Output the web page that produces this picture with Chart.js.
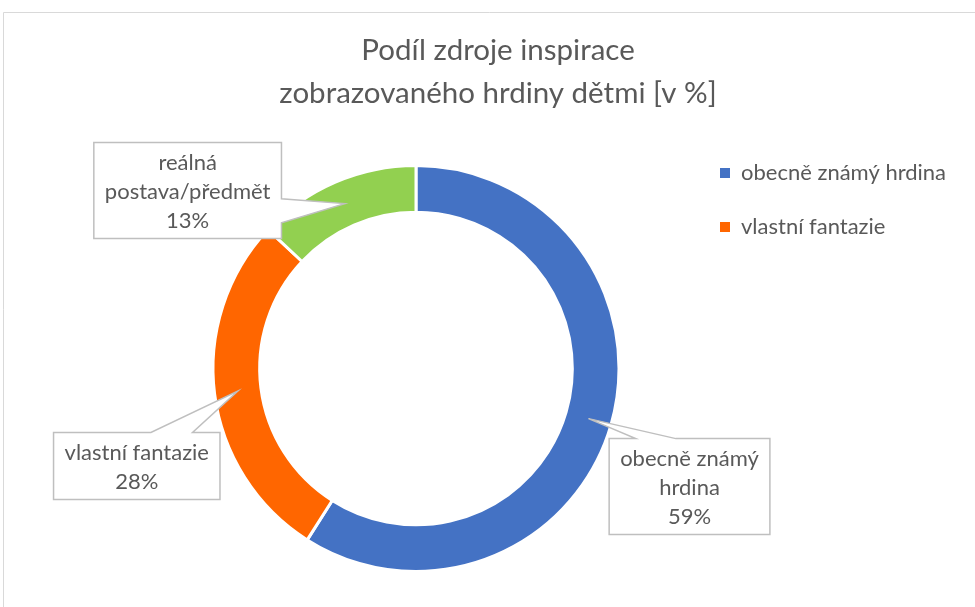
<!DOCTYPE html>
<html>
<head>
<meta charset="utf-8">
<script src="https://cdn.jsdelivr.net/npm/chart.js@4.4.1/dist/chart.umd.min.js"></script>
<style>
  html, body { margin: 0; padding: 0; background: #fff; }
  canvas { display: block; }
</style>
</head>
<body>
<canvas id="myChart" width="975" height="607"></canvas>
<script>
const categories = ['obecně známý hrdina', 'vlastní fantazie', 'reálná postava/předmět'];
const shares = [59, 28, 13];
const labelLines = [['obecně známý', 'hrdina'], ['vlastní fantazie'], ['reálná', 'postava/předmět']];
const sliceColors = ['#4472C4', '#FF6600', '#92D050'];
const titleLines = ['Podíl zdroje inspirace', 'zobrazovaného hrdiny dětmi [v %]'];

// where each callout box sits, relative to the middle of its slice
const calloutOffsets = [[101, 68], [-101, 75], [-157, -13]];

const FONT = 'Lato';
const TEXT = '#595959';
const LABEL_SIZE = 22;

const frame = {
  id: 'frame',
  afterLayout(chart) {
    // legend is squeezed so the title stays centred; let its text run past the box
    if (chart.legend) chart.legend.right = chart.width;
  },
  beforeDraw(chart) {
    const ctx = chart.ctx;
    ctx.save();
    ctx.fillStyle = '#fff';
    ctx.fillRect(0, 0, chart.width, chart.height);
    ctx.strokeStyle = '#D9D9D9';
    ctx.lineWidth = 1;
    ctx.beginPath();
    ctx.moveTo(3.5, chart.height);
    ctx.lineTo(3.5, 12.5);
    ctx.lineTo(chart.width, 12.5);
    ctx.stroke();
    ctx.restore();
  }
};

const callouts = {
  id: 'callouts',
  afterDraw(chart) {
    const ctx = chart.ctx;
    const meta = chart.getDatasetMeta(0);
    const total = shares.reduce((a, b) => a + b, 0);
    ctx.save();
    ctx.font = LABEL_SIZE + 'px ' + FONT;
    meta.data.forEach((arc, i) => {
      const tip = arc.tooltipPosition();
      const lines = labelLines[i].concat([Math.round(shares[i] / total * 100) + '%']);
      const w = Math.max(...lines.map(l => ctx.measureText(l).width)) + 22;
      const h = lines.length * 29 + 9;
      const cx = tip.x + calloutOffsets[i][0];
      const cy = tip.y + calloutOffsets[i][1];
      const l = cx - w / 2, t = cy - h / 2, r = cx + w / 2, b = cy + h / 2;

      ctx.beginPath();
      ctx.moveTo(l, t);
      if (tip.y < t) {
        const bc = cx + Math.sign(tip.x - cx) * 0.21 * w, bw = 0.25 * w;
        ctx.lineTo(bc - bw / 2, t);
        ctx.lineTo(tip.x, tip.y);
        ctx.lineTo(bc + bw / 2, t);
        ctx.lineTo(r, t);
        ctx.lineTo(r, b);
      } else if (tip.x > r) {
        const bc = cy + Math.sign(tip.y - cy) * 0.21 * h, bw = 0.25 * h;
        ctx.lineTo(r, t);
        ctx.lineTo(r, bc - bw / 2);
        ctx.lineTo(tip.x, tip.y);
        ctx.lineTo(r, bc + bw / 2);
        ctx.lineTo(r, b);
      } else {
        ctx.lineTo(r, t);
        ctx.lineTo(r, b);
      }
      ctx.lineTo(l, b);
      ctx.closePath();
      ctx.fillStyle = '#fff';
      ctx.fill();
      ctx.strokeStyle = '#BFBFBF';
      ctx.lineWidth = 1.5;
      ctx.stroke();

      ctx.fillStyle = TEXT;
      ctx.textAlign = 'center';
      ctx.textBaseline = 'middle';
      lines.forEach((line, k) => {
        ctx.fillText(line, cx, cy + (k - (lines.length - 1) / 2) * 29 + 1);
      });
    });
    ctx.restore();
  }
};

new Chart(document.getElementById('myChart'), {
  type: 'doughnut',
  data: {
    labels: categories,
    datasets: [{
      data: shares,
      backgroundColor: sliceColors,
      borderColor: '#fff',
      borderWidth: 3,
      radius: 203
    }]
  },
  options: {
    responsive: false,
    animation: false,
    cutout: '77%',
    layout: { padding: { left: 144, right: 123, top: 0, bottom: -3 } },
    plugins: {
      title: {
        display: true,
        text: titleLines,
        color: TEXT,
        font: { family: FONT, size: 29.5, weight: 'normal', lineHeight: '43px' },
        padding: { top: 28.5, bottom: 15.5 }
      },
      legend: {
        position: 'right',
        align: 'start',
        fullSize: false,
        maxWidth: 164,
        labels: {
          boxWidth: 10,
          boxHeight: 10,
          padding: 32,
          color: TEXT,
          font: { family: FONT, size: LABEL_SIZE },
          filter: (item) => item.index < 2,
          generateLabels: (chart) => Chart.overrides.doughnut.plugins.legend.labels
            .generateLabels(chart)
            .map(it => Object.assign(it, { lineWidth: 0, strokeStyle: it.fillStyle }))
        }
      },
      tooltip: { enabled: false }
    }
  },
  plugins: [frame, callouts]
});
</script>
</body>
</html>
